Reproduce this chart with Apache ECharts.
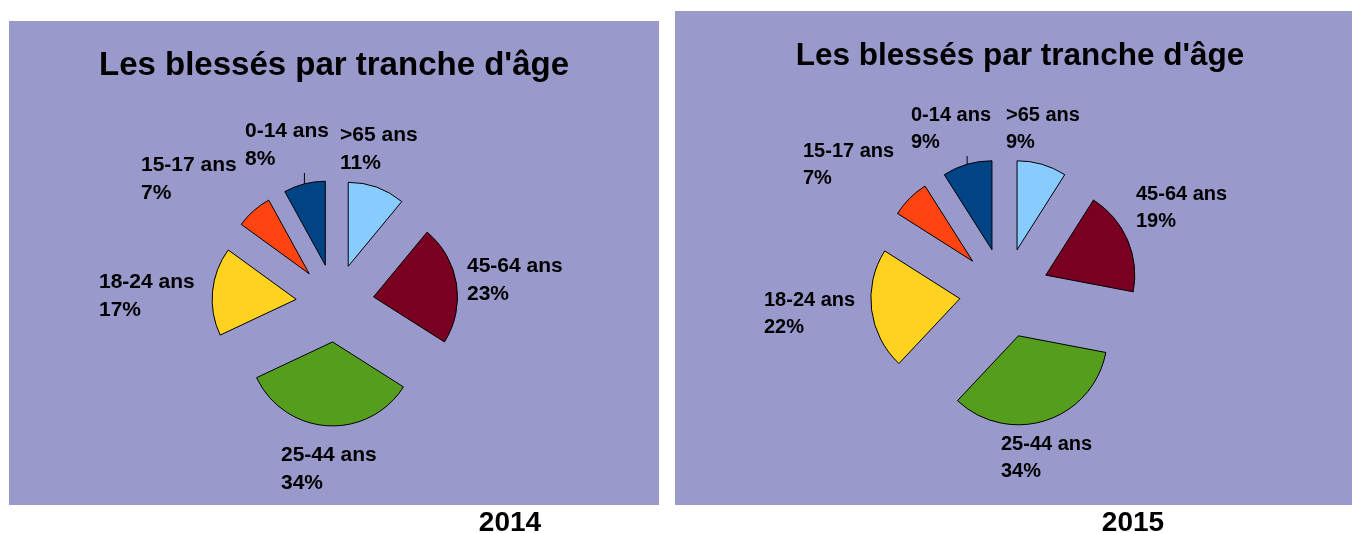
<!DOCTYPE html>
<html>
<head>
<meta charset="utf-8">
<title>Les blessés par tranche d'âge</title>
<script src="https://cdn.jsdelivr.net/npm/echarts@6/dist/echarts.min.js"></script>
<style>
  html, body { margin: 0; padding: 0; background: #fff; }
  #chart { width: 1352px; height: 533px; }
</style>
</head>
<body>
<div id="chart"></div>
<script>
// tranches d'âge, dans le sens des aiguilles d'une montre à partir de midi
const ageGroups = ['>65 ans', '45-64 ans', '25-44 ans', '18-24 ans', '15-17 ans', '0-14 ans']
const share2014 = [11, 23, 34, 17, 7, 8]
const share2015 = [9, 19, 34, 22, 7, 9]
const years = ['2014', '2015']
const chartTitle = "Les blessés par tranche d'âge"

const sliceColors = ['#87cbff', '#7a0022', '#559e1d', '#ffd21f', '#ff4411', '#004485']
const panelColor = '#9999cc'
const font = '"Liberation Sans", Arial, sans-serif'

const labelSpots = [
  [[340, 121], [467, 252], [281, 441], [99, 268], [141, 151], [245, 117]],
  [[1006, 102], [1136, 181], [1001, 431], [764, 287], [803, 138], [911, 102]],
]

// camembert éclaté : toutes les parts sont "sélectionnées"
function slicesSeries(values, center, radius, offset) {
  return {
    type: 'pie',
    z: 3,
    center: center,
    radius: radius,
    startAngle: 90,
    clockwise: true,
    selectedMode: 'multiple',
    selectedOffset: offset,
    animation: false,
    silent: true,
    itemStyle: { borderColor: '#000', borderWidth: 1 },
    select: { itemStyle: { borderColor: '#000', borderWidth: 1 } },
    emphasis: { disabled: true },
    label: { show: false },
    labelLine: { show: false },
    data: ageGroups.map((name, i) => ({
      name: name,
      value: values[i],
      selected: true,
      itemStyle: { color: sliceColors[i] },
    })),
  }
}

// même camembert, invisible, qui ne porte que les étiquettes
function labelsSeries(values, idx, center, radius, offset, fontSize, lineHeight) {
  return {
    type: 'pie',
    z: 2,
    center: center,
    radius: radius,
    startAngle: 90,
    clockwise: true,
    animation: false,
    silent: true,
    avoidLabelOverlap: false,
    itemStyle: { color: 'rgba(0,0,0,0)', borderWidth: 0 },
    emphasis: { disabled: true },
    label: {
      position: 'outside',
      formatter: '{b}\n{c}%',
      color: '#000',
      fontFamily: font,
      fontWeight: 'bold',
      fontSize: fontSize,
      lineHeight: lineHeight,
    },
    labelLine: { show: false, length: 4, length2: 0, lineStyle: { color: '#000', width: 1 } },
    labelLayout: (p) => {
      let spot = labelSpots[idx][p.dataIndex]
      let res = { x: spot[0], y: spot[1], align: 'left', verticalAlign: 'top' }
      // petit trait de rappel : du bord de la part éclatée jusqu'au bas de l'étiquette
      if (p.labelLinePoints && p.labelLinePoints.length) {
        let p0 = p.labelLinePoints[0]
        let dx = (p0[0] - center[0]) / radius
        let dy = (p0[1] - center[1]) / radius
        let ex = p0[0] + dx * offset
        let ey = p0[1] + dy * offset
        res.labelLinePoints = [[ex, ey], [ex, spot[1] + p.labelRect.height]]
      }
      return res
    },
    data: ageGroups.map((name, i) => ({
      name: name,
      value: values[i],
      labelLine: i === 5 ? { show: true } : undefined,
    })),
  }
}

let chart = echarts.init(document.getElementById('chart'), null, { renderer: 'canvas' })

chart.setOption({
  backgroundColor: '#fff',
  graphic: [
    { type: 'rect', left: 9, top: 21, shape: { width: 650, height: 484 }, style: { fill: panelColor }, silent: true },
    { type: 'rect', left: 675, top: 11, shape: { width: 677, height: 494 }, style: { fill: panelColor }, silent: true },
  ],
  title: [
    { text: chartTitle, left: 334, top: 49, textAlign: 'center', padding: 0,
      textStyle: { fontFamily: font, fontSize: 33, lineHeight: 33, fontWeight: 'bold', color: '#000' } },
    { text: chartTitle, left: 1020, top: 40, textAlign: 'center', padding: 0,
      textStyle: { fontFamily: font, fontSize: 31.5, lineHeight: 32, fontWeight: 'bold', color: '#000' } },
    { text: years[0], left: 510, top: 509, textAlign: 'center', padding: 0,
      textStyle: { fontFamily: font, fontSize: 28, lineHeight: 28, fontWeight: 'bold', color: '#000' } },
    { text: years[1], left: 1133, top: 509, textAlign: 'center', padding: 0,
      textStyle: { fontFamily: font, fontSize: 28, lineHeight: 28, fontWeight: 'bold', color: '#000' } },
  ],
  series: [
    labelsSeries(share2014, 0, [335, 303], 84, 39, 21, 28),
    slicesSeries(share2014, [335, 303], 84, 39),
    labelsSeries(share2015, 1, [1004.5, 293], 89, 45, 20, 27),
    slicesSeries(share2015, [1004.5, 293], 89, 45),
  ],
})
</script>
</body>
</html>
